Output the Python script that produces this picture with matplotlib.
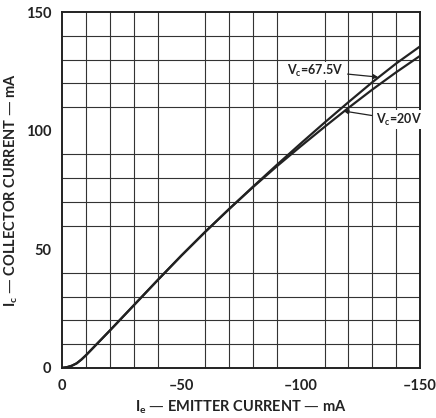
import numpy as np
import matplotlib.pyplot as plt

# emitter current (mA) and collector current (mA)
ie = [0, -2, -4, -6, -8, -10, -20, -30, -40, -50, -60, -70, -80,
      -90, -100, -110, -120, -130, -140, -150]
ic_675 = [0, 0.3, 0.9, 1.9, 3.5, 5.4, 15.8, 26.4, 37.0, 47.4, 57.4, 67.0, 76.4,
          85.6, 94.6, 103.4, 112.0, 120.4, 128.3, 135.5]
ic_20 = [0, 0.3, 0.9, 1.9, 3.5, 5.4, 15.8, 26.4, 37.0, 47.4, 57.4, 67.0, 76.2,
         85.0, 93.4, 101.6, 109.6, 117.3, 124.6, 131.5]

xticks = [0, -50, -100, -150]
xticklabels = ['0', '\u201350', '\u2013100', '\u2013150']
yticks = [0, 50, 100, 150]

ink = '#222222'
plt.rcParams['font.family'] = ['Lato', 'DejaVu Sans']

fig = plt.figure(figsize=(4.36, 4.18), dpi=100)
ax = fig.add_axes([0.143, 0.120, 0.820, 0.851])

ax.plot(ie, ic_675, c=ink, lw=1.6, solid_capstyle='round', solid_joinstyle='round')
ax.plot(ie, ic_20, c=ink, lw=1.6, solid_capstyle='round', solid_joinstyle='round')

ax.set_xlim(0, -150)
ax.set_ylim(0, 150)
ax.set_xticks(np.arange(0, -151, -10), minor=True)
ax.set_yticks(np.arange(0, 151, 10), minor=True)
ax.grid(which='minor', c='#333333', lw=0.8)
ax.set_axisbelow(True)

ax.set_xticks(xticks)
ax.set_xticklabels(xticklabels)
ax.set_yticks(yticks)
ax.tick_params(which='both', length=0, labelsize=10.5, colors=ink, pad=8)
for lab in ax.get_xticklabels() + ax.get_yticklabels():
    lab.set_fontweight('bold')
for s in ax.spines.values():
    s.set_linewidth(1.4)
    s.set_color(ink)

ax.set_xlabel('I$_\\mathregular{e}$ \u2014 EMITTER CURRENT \u2014 mA', fontsize=10.5,
              fontweight='bold', color=ink, labelpad=4)
ax.set_ylabel('I$_\\mathregular{c}$ \u2014 COLLECTOR CURRENT \u2014 mA', fontsize=10.5,
              fontweight='bold', color=ink, labelpad=4)

ax.annotate('V$_\\mathregular{c}$=67.5V', xy=(-132.5, 122.6), xytext=(-118, 125.2),
            ha='right', va='center', fontsize=9, fontweight='bold', color=ink,
            arrowprops=dict(arrowstyle='-|>', color=ink, lw=0.9, mutation_scale=7,
                            shrinkA=2, shrinkB=0),
            bbox=dict(boxstyle='square,pad=0.1', fc='white', ec='none'))
ax.annotate('V$_\\mathregular{c}$=20V', xy=(-118, 108.3), xytext=(-131.5, 104.6),
            ha='left', va='center', fontsize=9, fontweight='bold', color=ink,
            arrowprops=dict(arrowstyle='-|>', color=ink, lw=0.9, mutation_scale=7,
                            shrinkA=2, shrinkB=0),
            bbox=dict(boxstyle='square,pad=0.1', fc='white', ec='none'))

fig.savefig('out.png', dpi=100)
